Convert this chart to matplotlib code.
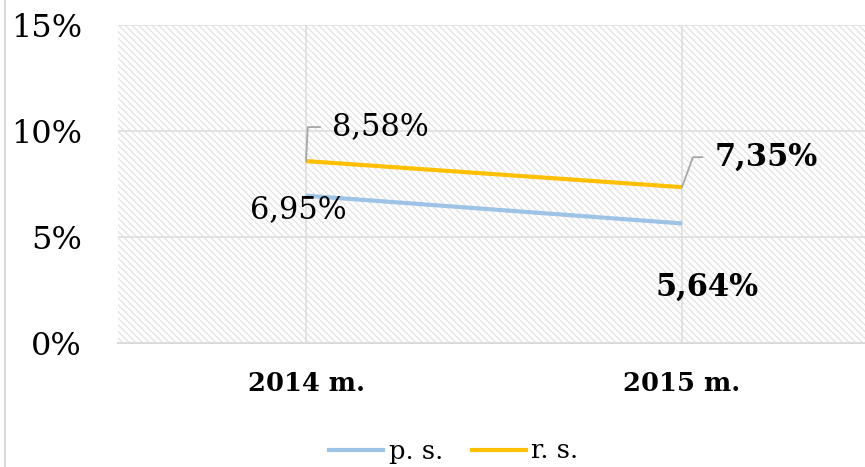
import matplotlib
matplotlib.use("Agg")
import matplotlib.pyplot as plt
from matplotlib.patches import Rectangle
from matplotlib.lines import Line2D

categories = ["2014 m.", "2015 m."]
series_names = ["p. s.", "r. s."]
ps_values = [6.95, 5.64]
rs_values = [8.58, 7.35]
ps_labels = ["6,95%", "5,64%"]
rs_labels = ["8,58%", "7,35%"]
yticks = [0, 5, 10, 15]
ytick_labels = ["0%", "5%", "10%", "15%"]

FONT = ["DejaVu Serif"]
plt.rcParams['font.family'] = FONT
plt.rcParams['hatch.linewidth'] = 0.9

fig = plt.figure(figsize=(8.65, 4.67), dpi=100)
ax = fig.add_axes([118/865, (467-343)/467, 752/865, 318/467])

x = list(range(len(categories)))
ax.set_xlim(-0.5, len(categories) - 0.5)
ax.set_ylim(0, 15)

# hatched plot area
ax.patch.set_facecolor("white")
bg = Rectangle((0, 0), 1, 1, transform=ax.transAxes, facecolor="white",
               edgecolor="#e2e2e2", hatch="\\\\\\\\\\", linewidth=0, zorder=0)
ax.add_patch(bg)

for s in ["top", "right", "left"]:
    ax.spines[s].set_visible(False)
ax.spines["bottom"].set_color("#d9d9d9")
ax.spines["bottom"].set_linewidth(1.5)

ax.set_yticks(yticks)
ax.set_yticklabels(ytick_labels, fontsize=23)
ax.set_xticks(x)
ax.set_xticklabels(categories, fontsize=18.5, fontweight="bold")
ax.tick_params(axis="both", length=0)
ax.tick_params(axis="y", pad=26)
ax.tick_params(axis="x", pad=20)
ax.grid(True, color="#dedede", linewidth=1.2, zorder=1)
ax.set_axisbelow(False)

blue = "#9DC3E6"
gold = "#FFC000"
ax.plot(x, ps_values, color=blue, linewidth=3, solid_capstyle="butt", zorder=3)
ax.plot(x, rs_values, color=gold, linewidth=3, solid_capstyle="butt", zorder=3)

# data labels
ax.annotate(ps_labels[0], xy=(x[0], ps_values[0]), xytext=(-40, -10),
            textcoords="offset points", fontsize=22, ha="left", va="center", zorder=4)
ax.annotate(ps_labels[1], xy=(x[1], ps_values[1]), xytext=(-19.4, -46),
            textcoords="offset points", fontsize=22, fontweight="bold",
            ha="left", va="center", zorder=4)
ax.annotate(rs_labels[0], xy=(x[0], rs_values[0]), xytext=(18.7, 24.5),
            textcoords="offset points", fontsize=22, ha="left", va="center", zorder=4,
            arrowprops=dict(arrowstyle="-", color="#a6a6a6", lw=1.3,
                            connectionstyle="angle,angleA=0,angleB=87,rad=0",
                            shrinkA=6.5, shrinkB=0, relpos=(0, 0.5)))
ax.annotate(rs_labels[1], xy=(x[1], rs_values[1]), xytext=(23.8, 21.6),
            textcoords="offset points", fontsize=22, fontweight="bold",
            ha="left", va="center", zorder=4,
            arrowprops=dict(arrowstyle="-", color="#a6a6a6", lw=1.3,
                            connectionstyle="angle,angleA=0,angleB=70,rad=0",
                            shrinkA=7, shrinkB=0, relpos=(0, 0.5)))

handles = [Line2D([], [], color=blue, lw=3), Line2D([], [], color=gold, lw=3)]
fig.legend(handles, series_names, loc="center", bbox_to_anchor=(454/865, 1 - 451/467),
           ncol=2, frameon=False, fontsize=18.5, handlelength=2.1, handletextpad=0.2,
           columnspacing=1.15)

# chart border (left edge visible)
fig.add_artist(Line2D([5/865, 5/865], [0, 1], transform=fig.transFigure,
                      color="#d9d9d9", lw=1.5))

fig.savefig("out.png", dpi=100)
